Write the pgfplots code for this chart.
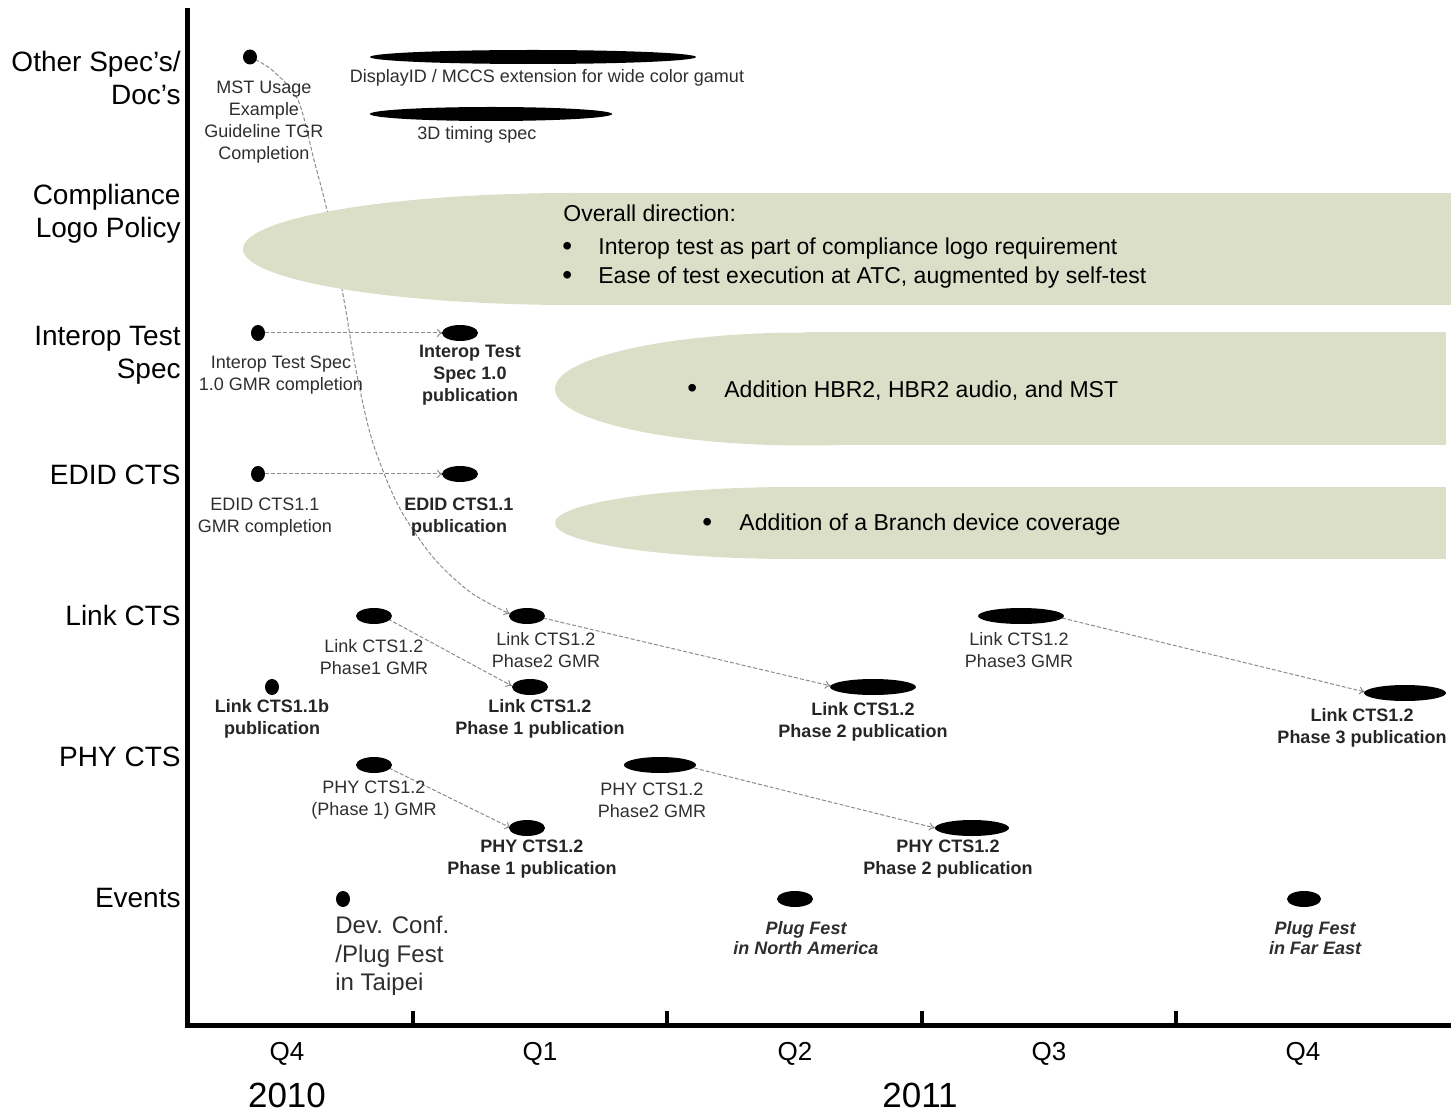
\documentclass[border=0pt]{standalone}
\usepackage{fontspec}
\setmainfont{Liberation Sans}
\usepackage{pgfplots}
\usepackage{pgfplotstable}
\pgfplotsset{compat=1.18}
\usetikzlibrary{arrows.meta}

\definecolor{pale}{HTML}{DCDFC8}
\definecolor{dashgray}{HTML}{8C8C8C}
\definecolor{txt}{HTML}{2E2E2E}

% ellipse mark, radii in picture pixels (1 px = 0.5pt)
\pgfdeclareplotmark{ell}{%
  \pgfpathellipse{\pgfpointorigin}{\pgfpoint{0.5pt*\rx}{0pt}}{\pgfpoint{0pt}{0.5pt*\ry}}%
  \pgfusepathqfill}

% milestones: centre and radii
\pgfplotstableread{
x    y    rx   ry
250  57   7    7.5
533  57   163  7
491  114  121  7
258  333  7    8
460  333  18   8
258  474  7    8
460  474  18   8
374  616  18   8
527  616  18   8
1021 616  43   8
272  687  7    8
530  687  18   8
873  687  43   8
1405 693  41   8
374  765  18   8
660  765  36   8
527  828  18   8
972  828  37   8
343  899  7    8
795  899  18   8
1304 899  17   8
}\milestones

% rounded left ends of the direction bands
\pgfplotstableread{
x    y    rx   ry
573  249  330  56
805  389  250  56.5
795  523  240  36
}\bandends

\tikzset{
  small/.style={font=\fontsize{9}{11}\selectfont, text=txt, align=center, inner sep=0pt},
  smallb/.style={font=\fontsize{9}{11}\selectfont\bfseries, text=black!85, align=center, inner sep=0pt},
  cat/.style={font=\fontsize{14}{16.5}\selectfont, align=right, anchor=east, inner sep=0pt},
  dir/.style={font=\fontsize{11.5}{14}\selectfont, anchor=west, inner sep=0pt},
  qlab/.style={font=\fontsize{13}{15}\selectfont, inner sep=0pt},
  ylab/.style={font=\fontsize{17.5}{20}\selectfont, inner sep=0pt},
}
\pgfplotsset{
  link/.style={dashgray, line width=0.5pt, dash pattern=on 2pt off 1pt, -{To[length=3pt,width=4pt]}},
}

\begin{document}
\begin{tikzpicture}
\begin{axis}[
  scale only axis, width=725.5pt, height=556pt,
  xmin=0, xmax=1451, ymin=0, ymax=1112, y dir=reverse,
  hide axis, clip=false, clip marker paths=true]

% MST usage guideline link (runs under the compliance band)
\addplot[link, smooth] coordinates {
  (250,57) (272,70) (298,100) (314,160) (328,215) (344,300)
  (356,370) (372,440) (398,505) (432,556) (470,592) (510,614)};

% direction bands
\addplot[fill=pale, draw=none] coordinates {(573,193) (1451,193) (1451,305) (573,305)};
\addplot[fill=pale, draw=none] coordinates {(805,332.5) (1446,332.5) (1446,445.5) (805,445.5)};
\addplot[fill=pale, draw=none] coordinates {(795,487) (1446,487) (1446,559) (795,559)};
\addplot[scatter, only marks, mark=ell, point meta=0, point meta min=0, point meta max=1,
  scatter/use mapped color={draw=none, fill=pale},
  visualization depends on={\thisrow{rx}\as\rx},
  visualization depends on={\thisrow{ry}\as\ry}] table[x=x, y=y] {\bandends};

% dependency links
\addplot[link] coordinates {(265,333) (443,333)};
\addplot[link] coordinates {(265,474) (443,474)};
\addplot[link] coordinates {(388,619) (512,686)};
\addplot[link] coordinates {(543,618) (831,686)};
\addplot[link] coordinates {(1062,618) (1365,692)};
\addplot[link] coordinates {(389,768) (511,828)};
\addplot[link] coordinates {(694,768) (935,828)};

% milestones
\addplot[scatter, only marks, mark=ell, point meta=0, point meta min=0, point meta max=1,
  scatter/use mapped color={draw=none, fill=black},
  visualization depends on={\thisrow{rx}\as\rx},
  visualization depends on={\thisrow{ry}\as\ry}] table[x=x, y=y] {\milestones};

% axes
\addplot[black, line width=2.5pt] coordinates {(187,8) (187,1027)};
\addplot[black, line width=2.5pt] coordinates {(185,1025) (1451,1025)};
\addplot[black, line width=2pt] coordinates {(413,1011) (413,1025)};
\addplot[black, line width=2pt] coordinates {(667,1011) (667,1025)};
\addplot[black, line width=2pt] coordinates {(922,1011) (922,1025)};
\addplot[black, line width=2pt] coordinates {(1176,1011) (1176,1025)};

% row labels
\node[cat] at (axis cs:181,78) {Other Spec’s/\\Doc’s};
\node[cat] at (axis cs:181,214) {Compliance\\Logo Policy};
\node[cat] at (axis cs:181,355) {Interop Test\\Spec};
\node[cat] at (axis cs:181,475) {EDID CTS};
\node[cat] at (axis cs:181,615) {Link CTS};
\node[cat] at (axis cs:181,757) {PHY CTS};
\node[cat] at (axis cs:181,898) {Events};

% quarters and years
\node[qlab] at (axis cs:287,1054) {Q4};
\node[qlab] at (axis cs:540,1054) {Q1};
\node[qlab] at (axis cs:795,1054) {Q2};
\node[qlab] at (axis cs:1049,1054) {Q3};
\node[qlab] at (axis cs:1303,1054) {Q4};
\node[ylab] at (axis cs:287,1095) {2010};
\node[ylab] at (axis cs:920,1095) {2011};

% other specs
\node[small] at (axis cs:264,122) {MST Usage\\Example\\Guideline TGR\\Completion};
\node[small] at (axis cs:547,78) {DisplayID / MCCS extension for wide color gamut};
\node[small] at (axis cs:477,135) {3D timing spec};

% direction texts
\node[dir] at (axis cs:563,213) {Overall direction:};
\node[dir, font=\fontsize{14}{14}\selectfont] at (axis cs:562,249) {•};
\node[dir] at (axis cs:598,249) {Interop test as part of compliance logo requirement};
\node[dir, font=\fontsize{14}{14}\selectfont] at (axis cs:562,278) {•};
\node[dir] at (axis cs:598,278) {Ease of test execution at ATC, augmented by self-test};
\node[dir, font=\fontsize{14}{14}\selectfont] at (axis cs:687,391) {•};
\node[dir] at (axis cs:724,391) {Addition HBR2, HBR2 audio, and MST};
\node[dir, font=\fontsize{14}{14}\selectfont] at (axis cs:702,525) {•};
\node[dir] at (axis cs:739,525) {Addition of a Branch device coverage};

% interop / EDID
\node[small] at (axis cs:281,375) {Interop Test Spec\\1.0 GMR completion};
\node[smallb] at (axis cs:470,375) {Interop Test\\Spec 1.0\\publication};
\node[small] at (axis cs:265,517) {EDID CTS1.1\\GMR completion};
\node[smallb] at (axis cs:459,517) {EDID CTS1.1\\publication};

% link CTS
\node[small] at (axis cs:374,657) {Link CTS1.2\\Phase1 GMR};
\node[small] at (axis cs:546,650) {Link CTS1.2\\Phase2 GMR};
\node[small] at (axis cs:1019,650) {Link CTS1.2\\Phase3 GMR};
\node[smallb] at (axis cs:272,719) {Link CTS1.1b\\publication};
\node[smallb] at (axis cs:540,719) {Link CTS1.2\\Phase 1 publication};
\node[smallb] at (axis cs:863,722) {Link CTS1.2\\Phase 2 publication};
\node[smallb] at (axis cs:1362,728) {Link CTS1.2\\Phase 3 publication};

% PHY CTS
\node[small] at (axis cs:374,800) {PHY CTS1.2\\(Phase 1) GMR};
\node[small] at (axis cs:652,800) {PHY CTS1.2\\Phase2 GMR};
\node[smallb] at (axis cs:532,859) {PHY CTS1.2\\Phase 1 publication};
\node[smallb] at (axis cs:948,859) {PHY CTS1.2\\Phase 2 publication};

% events
\node[font=\fontsize{12}{14.25}\selectfont, align=left, anchor=west, inner sep=0pt, text=txt]
  at (axis cs:335,956) {Dev. Conf.\\/Plug Fest\\in Taipei};
\node[small, font=\fontsize{9}{10}\selectfont\bfseries\itshape] at (axis cs:806,938) {Plug Fest\\in North America};
\node[small, font=\fontsize{9}{10}\selectfont\bfseries\itshape] at (axis cs:1315,938) {Plug Fest\\in Far East};
\end{axis}
\pgfresetboundingbox
\path (current axis.south west) rectangle (current axis.north east);
\end{tikzpicture}
\end{document}
